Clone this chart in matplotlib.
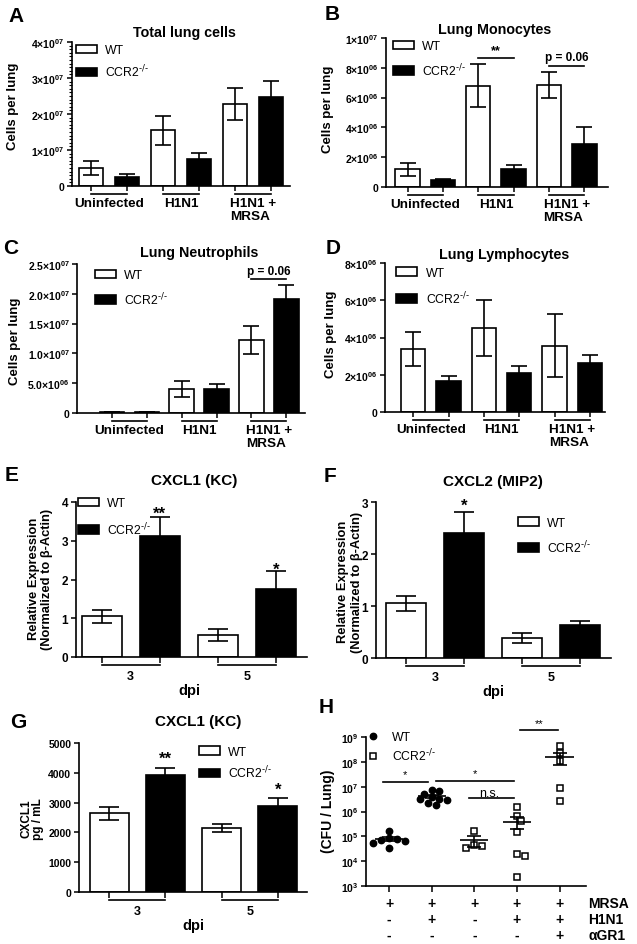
import numpy as np
import matplotlib
matplotlib.use("Agg")
import matplotlib.pyplot as plt
from matplotlib.patches import Patch
from matplotlib.lines import Line2D
from matplotlib.ticker import MultipleLocator, LogLocator, NullFormatter
from matplotlib.transforms import offset_copy

plt.rcParams['font.family'] = ['Liberation Sans', 'DejaVu Sans']
plt.rcParams['mathtext.default'] = 'regular'

# ---------------- data ----------------
groups_infection = ['Uninfected', 'H1N1', 'H1N1 +\nMRSA']
groups_dpi = ['3', '5']
legend_labels = ['WT', r'CCR2$^{\text{-/-}}$']

# A: total lung cells
total_wt = [0.50e7, 1.55e7, 2.28e7]
total_wt_sem = [0.20e7, 0.40e7, 0.45e7]
total_ko = [0.26e7, 0.76e7, 2.47e7]
total_ko_sem = [0.06e7, 0.15e7, 0.45e7]

# B: monocytes
mono_wt = [1.19e6, 6.80e6, 6.85e6]
mono_wt_sem = [0.45e6, 1.45e6, 0.90e6]
mono_ko = [0.50e6, 1.19e6, 2.90e6]
mono_ko_sem = [0.05e6, 0.32e6, 1.10e6]

# C: neutrophils
neut_wt = [0.02e7, 0.40e7, 1.225e7]
neut_wt_sem = [0.005e7, 0.13e7, 0.23e7]
neut_ko = [0.015e7, 0.41e7, 1.92e7]
neut_ko_sem = [0.004e7, 0.07e7, 0.23e7]

# D: lymphocytes
lymph_wt = [3.38e6, 4.50e6, 3.56e6]
lymph_wt_sem = [0.93e6, 1.50e6, 1.68e6]
lymph_ko = [1.65e6, 2.07e6, 2.64e6]
lymph_ko_sem = [0.27e6, 0.40e6, 0.42e6]

# E: CXCL1 mRNA
cxcl1_wt = [1.05, 0.57]
cxcl1_wt_sem = [0.16, 0.15]
cxcl1_ko = [3.11, 1.76]
cxcl1_ko_sem = [0.50, 0.46]

# F: CXCL2 mRNA
cxcl2_wt = [1.05, 0.39]
cxcl2_wt_sem = [0.14, 0.10]
cxcl2_ko = [2.40, 0.64]
cxcl2_ko_sem = [0.40, 0.07]

# G: CXCL1 protein (pg/mL)
kc_wt = [2640, 2142]
kc_wt_sem = [215, 124]
kc_ko = [3914, 2882]
kc_ko_sem = [245, 258]

# H: CFU per lung, one list per column
cfu_wt_mrsa = [1.7e5, 8.3e4, 7.6e4, 7.2e4, 6.6e4, 5.2e4, 3.3e4]
cfu_wt_flu_mrsa = [7.6e6, 6.5e6, 5.2e6, 3.8e6, 3.3e6, 3.1e6, 2.8e6, 2.3e6, 1.8e6]
cfu_ko_mrsa = [1.66e5, 4.3e4, 3.3e4, 3.9e4]
cfu_ko_flu_mrsa = [1.45e6, 6.8e5, 4.1e5, 1.55e5, 2.0e4, 1.66e4, 2.3e3]
cfu_ko_flu_mrsa_gr1 = [4.4e8, 2.2e8, 1.1e8, 8.7e6, 2.6e6]
row_mrsa = ['+', '+', '+', '+', '+']
row_h1n1 = ['-', '+', '-', '+', '+']
row_gr1 = ['-', '-', '-', '-', '+']
row_names = ['MRSA', 'H1N1', '\u03b1GR1']

W, H = 637, 945
fig = plt.figure(figsize=(W / 100, H / 100), dpi=100)


def add_ax(l, t, r, b):
    ax = fig.add_axes([l / W, 1 - b / H, (r - l) / W, (b - t) / H])
    ax.spines['top'].set_visible(False)
    ax.spines['right'].set_visible(False)
    for s in ['left', 'bottom']:
        ax.spines[s].set_linewidth(1.2)
    ax.tick_params(width=1.1, length=3.5, pad=2)
    return ax


def ftext(x, y, s, **kw):
    fig.text(x / W, 1 - y / H, s, **kw)


def sci(v, dec):
    if v == 0:
        return '0'
    e = int(np.floor(np.log10(v) + 1e-9))
    return f'{v / 10 ** e:.{dec}f}\u00d7$10^{{{e:02d}}}$'


def bar_panel(ax, wt, wt_sem, ko, ko_sem, xlim, width=0.69, capsize=5.5):
    x_wt = np.arange(len(wt)) * 2.0
    x_ko = x_wt + 1
    ax.bar(x_wt, wt, width, color='white', edgecolor='black', linewidth=1.2, zorder=2)
    ax.bar(x_ko, ko, width, color='black', edgecolor='black', linewidth=1.2, zorder=2)
    for x, m, e in [(x_wt, wt, wt_sem), (x_ko, ko, ko_sem)]:
        ax.errorbar(x, m, yerr=e, fmt='none', ecolor='black', elinewidth=1.2,
                    capsize=capsize, capthick=1.2, zorder=3)
    ax.set_xlim(xlim)
    ax.set_xticks(np.sort(np.concatenate([x_wt, x_ko])), labels=[])
    tr = offset_copy(ax.get_xaxis_transform(), fig=fig, y=-6, units='points')
    for a, b in zip(x_wt, x_ko):
        ax.plot([a, b], [0, 0], color='black', lw=1.2, transform=tr, clip_on=False)
    return x_wt, x_ko


def bar_legend(ax, anchor, spacing):
    handles = [Patch(facecolor='white', edgecolor='black', linewidth=1.2),
               Patch(facecolor='black', edgecolor='black', linewidth=1.2)]
    ax.legend(handles, legend_labels, loc='upper left', bbox_to_anchor=anchor,
              frameon=False, fontsize=8.8, handlelength=1.7, handleheight=0.7,
              handletextpad=0.7, labelspacing=spacing, borderpad=0, borderaxespad=0)


def below(ax, x, s, dy, size, **kw):
    ax.annotate(s, xy=(x, 0), xycoords=('data', 'axes fraction'), xytext=(0, dy),
                textcoords='offset points', ha='center', fontsize=size,
                fontweight='bold', annotation_clip=False, **kw)


def infection_panel(box, wt, wt_sem, ko, ko_sem, xlim, ylim, ticks, dec, anchor, spacing):
    ax = add_ax(*box)
    x_wt, x_ko = bar_panel(ax, wt, wt_sem, ko, ko_sem, xlim)
    ax.set_ylim(ylim)
    ax.set_yticks(ticks, labels=[sci(t, dec) for t in ticks], fontsize=7.5, fontweight='bold')
    for c, g in zip((x_wt + x_ko) / 2, groups_infection):
        below(ax, c, g, -8, 9.7, va='top', multialignment='left', linespacing=1.1)
    bar_legend(ax, anchor, spacing)
    return ax, x_wt, x_ko


def dpi_panel(box, wt, wt_sem, ko, ko_sem, xlim, ylim, ticks, tsize, anchor, spacing):
    ax = add_ax(*box)
    x_wt, x_ko = bar_panel(ax, wt, wt_sem, ko, ko_sem, xlim, capsize=7)
    ax.set_ylim(ylim)
    ax.set_yticks(ticks, labels=[str(t) for t in ticks], fontsize=tsize, fontweight='bold')
    ax.tick_params(axis='x', length=4.5)
    for c, g in zip((x_wt + x_ko) / 2, groups_dpi):
        below(ax, c, g, -14, 9, va='center')
    below(ax, 0.5 * (x_wt[0] + x_ko[-1]), 'dpi', -23.5, 10.5, va='center')
    bar_legend(ax, anchor, spacing)
    return ax, x_wt, x_ko


# ---------------- A ----------------
axA, xw, xk = infection_panel((72, 43, 290, 187), total_wt, total_wt_sem, total_ko, total_ko_sem,
                              (-0.53, 5.53), (0, 4e7), [0, 1e7, 2e7, 3e7, 4e7], 0,
                              (0.018, 0.985), 0.55)
axA.yaxis.set_minor_locator(MultipleLocator(1e6))
axA.tick_params(axis='y', which='minor', length=2, width=0.8)

# ---------------- B ----------------
axB, xw, xk = infection_panel((386, 39, 608, 188), mono_wt, mono_wt_sem, mono_ko, mono_ko_sem,
                              (-0.61, 5.67), (0, 1e7), [0, 2e6, 4e6, 6e6, 8e6, 1e7], 0,
                              (0.032, 0.985), 0.75)
axB.plot([xw[1], xk[1]], [8.64e6] * 2, color='black', lw=1.2)
axB.text((xw[1] + xk[1]) / 2, 8.75e6, '**', ha='center', va='bottom', fontsize=9, fontweight='bold')
axB.plot([xw[2], xk[2]], [8.14e6] * 2, color='black', lw=1.2)
axB.text((xw[2] + xk[2]) / 2, 8.3e6, 'p = 0.06', ha='center', va='bottom', fontsize=8.5, fontweight='bold')

# ---------------- C ----------------
axC, xw, xk = infection_panel((77, 265, 305, 414), neut_wt, neut_wt_sem, neut_ko, neut_ko_sem,
                              (-0.99, 5.53), (0, 2.5e7), [0, 5e6, 1e7, 1.5e7, 2e7, 2.5e7], 1,
                              (0.079, 0.965), 0.75)
axC.plot([xw[2], xk[2]], [2.24e7] * 2, color='black', lw=1.2, clip_on=False)
axC.text((xw[2] + xk[2]) / 2, 2.29e7, 'p = 0.06', ha='center', va='bottom', fontsize=8.5, fontweight='bold')

# ---------------- D ----------------
axD, xw, xk = infection_panel((385, 264, 605, 413), lymph_wt, lymph_wt_sem, lymph_ko, lymph_ko_sem,
                              (-0.80, 5.43), (0, 8e6), [0, 2e6, 4e6, 6e6, 8e6], 0,
                              (0.051, 0.973), 0.85)

# ---------------- E ----------------
axE, xw, xk = dpi_panel((76, 503, 307, 658), cxcl1_wt, cxcl1_wt_sem, cxcl1_ko, cxcl1_ko_sem,
                        (-0.44, 3.53), (0, 4), [0, 1, 2, 3, 4], 8.5, (0.009, 1.03), 0.9)
axE.text(xk[0], 3.72, '**', ha='center', va='center', fontsize=12, fontweight='bold')
axE.text(xk[1], 2.27, '*', ha='center', va='center', fontsize=12, fontweight='bold')

# ---------------- F ----------------
axF, xw, xk = dpi_panel((376, 503, 611, 659), cxcl2_wt, cxcl2_wt_sem, cxcl2_ko, cxcl2_ko_sem,
                        (-0.52, 3.53), (0, 3), [0, 1, 2, 3], 8.5, (0.604, 0.907), 0.8)
axF.text(xk[0], 2.93, '*', ha='center', va='center', fontsize=12, fontweight='bold')

# ---------------- G ----------------
axG, xw, xk = dpi_panel((79, 744, 307, 893), kc_wt, kc_wt_sem, kc_ko, kc_ko_sem,
                        (-0.54, 3.52), (0, 5000), [0, 1000, 2000, 3000, 4000, 5000], 7.5,
                        (0.526, 0.98), 0.45)
axG.text(xk[0], 4480, '**', ha='center', va='center', fontsize=12, fontweight='bold')
axG.text(xk[1], 3450, '*', ha='center', va='center', fontsize=12, fontweight='bold')


# ---------------- H ----------------
def swarm(vals, d=6.5, px_unit=42.6, px_dec=25.0):
    order = np.argsort(vals)[::-1]
    placed, offs = [], np.zeros(len(vals))
    for i in order:
        y = np.log10(vals[i]) * px_dec
        for k in [0, 1, -1, 2, -2, 3, -3, 4, -4, 5, -5]:
            x = k * d * 0.6
            if all((x - px) ** 2 + (y - py) ** 2 >= d ** 2 for px, py in placed):
                break
        placed.append((x, y))
        offs[i] = x / px_unit
    return offs


axH = add_ax(366, 738, 586, 887)
axH.set_yscale('log')
axH.set_ylim(1e3, 1e9)
axH.set_xlim(-0.54, 4.62)
columns = [cfu_wt_mrsa, cfu_wt_flu_mrsa, cfu_ko_mrsa, cfu_ko_flu_mrsa, cfu_ko_flu_mrsa_gr1]
filled = [True, True, False, False, False]
for i, (vals, f) in enumerate(zip(columns, filled)):
    vals = np.array(vals)
    xs = i + swarm(vals)
    if f:
        axH.plot(xs, vals, 'o', ms=4.6, color='black', zorder=3)
    else:
        axH.plot(xs, vals, 's', ms=4.6, mfc='white', mec='black', mew=1.1, zorder=3)
    m = vals.mean()
    sem = vals.std(ddof=1) / np.sqrt(len(vals))
    axH.hlines(m, i - 0.33, i + 0.33, color='black', lw=1.2, zorder=4)
    axH.errorbar(i, m, yerr=sem, fmt='none', ecolor='black', elinewidth=1.2,
                 capsize=5, capthick=1.2, zorder=4)
axH.set_xticks(range(5), labels=[])
axH.tick_params(axis='x', length=4.5)
axH.set_yticks([10.0 ** k for k in range(3, 10)],
               labels=[f'$10^{{{k}}}$' for k in range(3, 10)], fontsize=7.5, fontweight='bold')
axH.yaxis.set_minor_locator(LogLocator(base=10, subs=np.arange(2, 10)))
axH.yaxis.set_minor_formatter(NullFormatter())
axH.tick_params(axis='y', which='minor', length=2, width=0.8)

# significance bars
for (x0, x1, y, s, size) in [(-0.15, 0.91, 1.6e7, '*', 8), (1.1, 2.93, 1.7e7, '*', 8),
                             (3.08, 3.97, 1.9e9, '**', 8)]:
    axH.plot([x0, x1], [y, y], color='black', lw=1.2, clip_on=False)
    axH.text((x0 + x1) / 2, y * 1.25, s, ha='center', va='bottom', fontsize=size, clip_on=False)
axH.plot([1.88, 2.93], [3.5e6, 3.5e6], color='black', lw=1.2)
axH.text(2.35, 3.3e6, 'n.s.', ha='center', va='bottom', fontsize=9)

hl = [Line2D([], [], marker='o', ls='none', ms=4.6, color='black'),
      Line2D([], [], marker='s', ls='none', ms=4.6, mfc='white', mec='black', mew=1.1)]
axH.legend(hl, legend_labels, loc='upper left', bbox_to_anchor=(0.005, 1.04), frameon=False,
           fontsize=8.8, handlelength=1.0, handletextpad=1.0, labelspacing=0.3,
           borderpad=0, borderaxespad=0)

for r, (row, name) in enumerate(zip([row_mrsa, row_h1n1, row_gr1], row_names)):
    dy = -12.2 - 11.5 * r
    for i, s in enumerate(row):
        below(axH, i, s, dy, 10, va='center')
    axH.annotate(name, xy=(1.0, 0), xycoords='axes fraction', xytext=(1.5, dy),
                 textcoords='offset points', ha='left', va='center', fontsize=10,
                 fontweight='bold', annotation_clip=False)

# ---------------- titles, labels, panel letters ----------------
for x, y, s, size in [(184, 33, 'Total lung cells', 10.3), (495, 30, 'Lung Monocytes', 10.3),
                      (199, 253, 'Lung Neutrophils', 10.3), (504, 255, 'Lung Lymphocytes', 10.3),
                      (194, 481, 'CXCL1 (KC)', 11), (493, 482, 'CXCL2 (MIP2)', 11),
                      (198, 722, 'CXCL1 (KC)', 11)]:
    ftext(x, y, s, ha='center', va='center', fontsize=size, fontweight='bold')

for x, y in [(13, 106), (328, 109), (15, 341), (331, 334)]:
    ftext(x, y, 'Cells per lung', rotation=90, ha='center', va='center', fontsize=9.5, fontweight='bold')
for x, y in [(40.5, 579), (350, 582)]:
    ftext(x, y, 'Relative Expression\n(Normalized to \u03b2-Actin)', rotation=90, ha='center',
          va='center', fontsize=9.3, fontweight='bold', linespacing=1.2)
ftext(32.5, 819, 'CXCL1\npg / mL', rotation=90, ha='center', va='center', fontsize=8.5,
      fontweight='bold', linespacing=1.0)
ftext(328, 811, '(CFU / Lung)', rotation=90, ha='center', va='center', fontsize=10, fontweight='bold')

for x, y, s in [(16, 16, 'A'), (332, 14, 'B'), (11, 248, 'C'), (333, 248, 'D'),
                (12, 476, 'E'), (330, 477, 'F'), (18, 723, 'G'), (326, 708, 'H')]:
    ftext(x, y, s, ha='center', va='center', fontsize=15, fontweight='bold')

fig.savefig('out.png', dpi=100)
